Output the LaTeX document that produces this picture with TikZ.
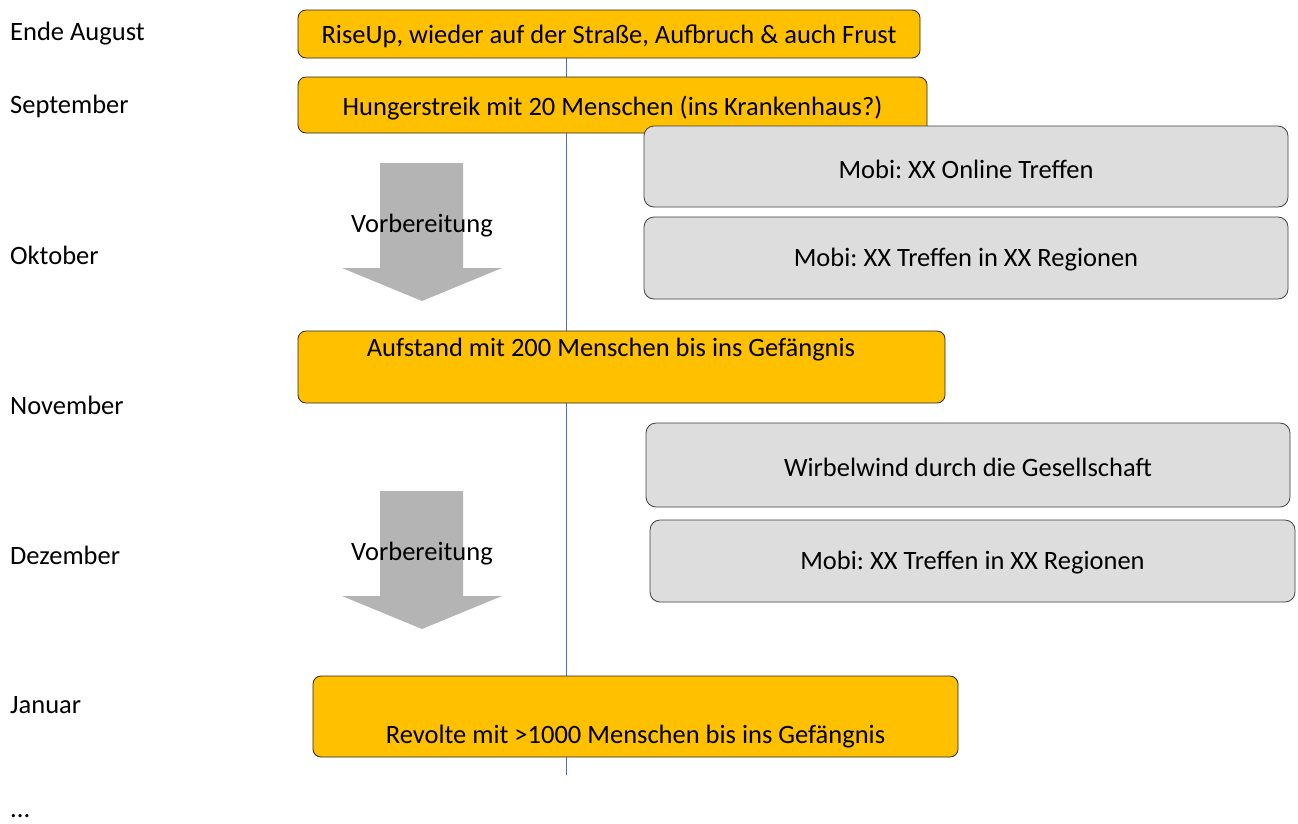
\documentclass[tikz,border=0pt]{standalone}
\usepackage{fontspec}
\setmainfont{Carlito}
\frenchspacing
\begin{document}
\begin{tikzpicture}[x=1pt,y=-1pt,
  every node/.style={font=\fontsize{26.5}{31}\selectfont, inner sep=0pt},
  orangebox/.style={draw=black!85, line width=0.8pt, fill={rgb,255:red,255;green,192;blue,0}, rounded corners=8pt},
  graybox/.style={draw=black!75, line width=0.8pt, fill={rgb,255:red,221;green,221;blue,221}, rounded corners=10pt},
  month/.style={anchor=west},
  bigarrow/.style={fill={rgb,255:red,180;green,180;blue,180}},
  timeline/.style={draw={rgb,255:red,68;green,114;blue,196}, line width=0.8pt}
]
\useasboundingbox (0,0) rectangle (1298,823);
\coordinate (tltop) at (566,58);
\coordinate (tlbot) at (566,775);
\draw[timeline] (tltop) -- (tlbot);

% arrows
\fill[bigarrow] (380,163) -- (463,163) -- (463,268) -- (502,268) -- (422,301) -- (342,268) -- (380,268) -- cycle;
\fill[bigarrow] (380,491) -- (463,491) -- (463,596) -- (502,596) -- (422,629) -- (342,596) -- (380,596) -- cycle;
\node (prep1) at (422,226) {Vorbereitung};
\node (prep2) at (422,554) {Vorbereitung};

% orange boxes
\node[orangebox, minimum width=622pt, minimum height=48pt] (b1) at (609,34) {};
\node (b1t) at (609,36) {RiseUp, wieder auf der Straße, Aufbruch \& auch Frust};
\node[orangebox, minimum width=629pt, minimum height=56pt] (b2) at (612.5,105) {};
\node (b2t) at (612.5,108) {Hungerstreik mit 20 Menschen (ins Krankenhaus?)};
\node[orangebox, minimum width=647pt, minimum height=72pt] (b3) at (621.5,367) {};
\node (b3t) at (611,350) {Aufstand mit 200 Menschen bis ins Gefängnis};
\node[orangebox, minimum width=645pt, minimum height=81pt] (b4) at (635.5,716.5) {};
\node (b4t) at (635.5,737) {Revolte mit >1000 Menschen bis ins Gefängnis};

% gray boxes
\node[graybox, minimum width=644pt, minimum height=81pt] (g1) at (966,166.5) {};
\node (g1t) at (966,169) {Mobi: XX Online Treffen};
\node[graybox, minimum width=644pt, minimum height=82pt] (g2) at (966,258) {};
\node (g2t) at (966,260) {Mobi: XX Treffen in XX Regionen};
\node[graybox, minimum width=644pt, minimum height=84pt] (g3) at (968,465) {};
\node (g3t) at (968,467) {Wirbelwind durch die Gesellschaft};
\node[graybox, minimum width=645pt, minimum height=82pt] (g4) at (972.5,561) {};
\node (g4t) at (972.5,563) {Mobi: XX Treffen in XX Regionen};

% months
\node[month] (m1) at (10,34) {Ende August};
\node[month] (m2) at (10,106) {September};
\node[month] (m3) at (10,255) {Oktober};
\node[month] (m4) at (10,405) {November};
\node[month] (m5) at (10,555) {Dezember};
\node[month] (m6) at (10,705) {Januar};
\node[month, anchor=base west] (m7) at (10,817) {...};
\end{tikzpicture}
\end{document}
